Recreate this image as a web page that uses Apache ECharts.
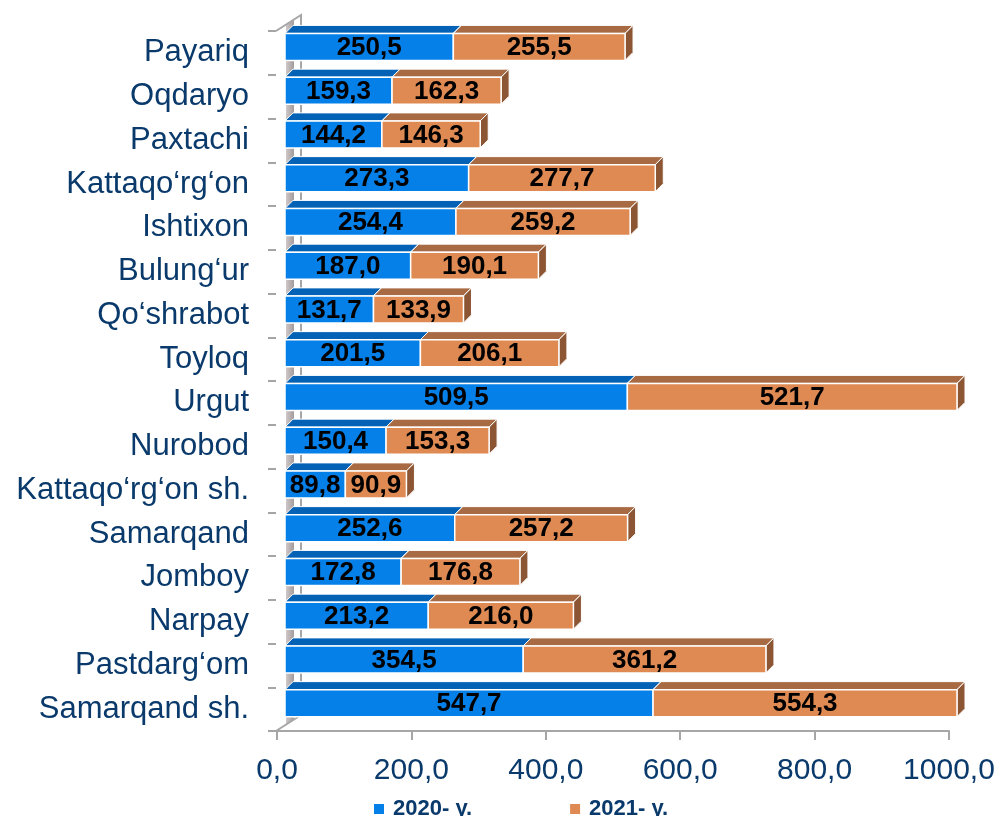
<!DOCTYPE html>
<html>
<head>
<meta charset="utf-8">
<script src="https://cdn.jsdelivr.net/npm/echarts@6/dist/echarts.min.js"></script>
<style>
  html, body { margin: 0; padding: 0; background: #fff; }
  #chart { width: 1001px; height: 816px; }
</style>
</head>
<body>
<div id="chart"></div>
<script>
const categories = ['Payariq', 'Oqdaryo', 'Paxtachi', 'Kattaqo‘rg‘on', 'Ishtixon', 'Bulung‘ur', 'Qo‘shrabot',
  'Toyloq', 'Urgut', 'Nurobod', 'Kattaqo‘rg‘on sh.', 'Samarqand', 'Jomboy', 'Narpay', 'Pastdarg‘om', 'Samarqand sh.']
const values2020 = [250.5, 159.3, 144.2, 273.3, 254.4, 187.0, 131.7, 201.5, 509.5, 150.4, 89.8, 252.6, 172.8, 213.2, 354.5, 547.7]
const values2021 = [255.5, 162.3, 146.3, 277.7, 259.2, 190.1, 133.9, 206.1, 521.7, 153.3, 90.9, 257.2, 176.8, 216.0, 361.2, 554.3]
const xTicks = [0, 200, 400, 600, 800, 1000]
const seriesNames = ['2020- y.', '2021- y.']

const AXIS_MAX = xTicks[xTicks.length - 1]
const navy = '#0A3A6B'
const gray = '#A6A6A6'
const fmt = v => v.toFixed(1).replace('.', ',')

// 3d look
const DEPTH = 8
const FACE_H = 27
const FACE_SHIFT = -6
const X_SHIFT = 8

const palettes = [
  { front: '#0580E8', top: '#0462B6', side: '#034F93' },
  { front: '#DE8A52', top: '#A76A43', side: '#8C5634' }
]

function barItem (palette) {
  return function (params, api) {
    const i = api.value(0)
    const s = api.value(1)
    const e = Math.min(api.value(2), AXIS_MAX)
    if (s >= AXIS_MAX) return
    const p0 = api.coord([s, i])
    const p1 = api.coord([e, i])
    const x0 = p0[0] + X_SHIFT
    const x1 = p1[0] + X_SHIFT
    const cy = p0[1] + FACE_SHIFT
    const top = cy - FACE_H / 2
    const bot = cy + FACE_H / 2
    return {
      type: 'group',
      children: [
        {
          type: 'polygon',
          shape: { points: [[x0, top], [x0 + DEPTH, top - DEPTH], [x1 + DEPTH, top - DEPTH], [x1, top]] },
          style: { fill: palette.top, stroke: '#fff', lineWidth: 1 }
        },
        {
          type: 'polygon',
          shape: { points: [[x1, top], [x1 + DEPTH, top - DEPTH], [x1 + DEPTH, bot - DEPTH], [x1, bot]] },
          style: { fill: palette.side, stroke: '#fff', lineWidth: 1 }
        },
        {
          type: 'rect',
          shape: { x: x0, y: top, width: x1 - x0, height: FACE_H },
          style: { fill: palette.front, stroke: '#fff', lineWidth: 1.5 }
        },
        {
          type: 'text',
          style: {
            text: fmt(api.value(3)),
            x: (x0 + x1) / 2,
            y: cy + 1,
            align: 'center',
            verticalAlign: 'middle',
            fontSize: 26,
            fontWeight: 'bold',
            fontFamily: 'Liberation Sans, Arial, sans-serif',
            fill: '#000'
          }
        }
      ]
    }
  }
}

// side wall of the 3d frame
function wallItem (params, api) {
  const band = api.size([0, 1])[1]
  const first = api.coord([0, 0])
  const last = api.coord([0, categories.length - 1])
  const x = first[0] - 1
  const yTop = first[1] - band / 2
  const yBot = last[1] + band / 2
  const dx = 25
  const dy = 16
  return {
    type: 'group',
    children: [
      {
        type: 'polygon',
        shape: { points: [[x, yBot], [x, yTop], [x + dx, yTop - dy], [x + dx, yBot - dy]] },
        style: {
          fill: new echarts.graphic.LinearGradient(0, 0, 1, 0, [
            { offset: 0, color: '#fff' },
            { offset: 0.38, color: '#fff' },
            { offset: 0.4, color: '#CFC8C8' },
            { offset: 0.72, color: '#A39B9B' },
            { offset: 0.74, color: '#fff' },
            { offset: 1, color: '#fff' }
          ])
        }
      },
      {
        type: 'polyline',
        shape: { points: [[x, yTop], [x + dx, yTop - dy], [x + dx, yBot - dy], [x, yBot]] },
        style: { stroke: gray, lineWidth: 2, fill: null }
      }
    ]
  }
}

const data2020 = values2020.map((v, i) => [i, 0, v, v])
const data2021 = values2021.map((v, i) => [i, values2020[i], values2020[i] + v, v])

const chart = echarts.init(document.getElementById('chart'))
chart.setOption({
  animation: false,
  textStyle: { fontFamily: 'Liberation Sans, Arial, sans-serif' },
  grid: { left: 277, right: 52, top: 31, bottom: 85 },
  legend: {
    data: seriesNames,
    left: 369,
    top: 793,
    icon: 'rect',
    itemWidth: 10,
    itemHeight: 10,
    itemGap: 98,
    textStyle: { color: navy, fontSize: 22, fontWeight: 'bold', padding: [0, 0, 0, 4] }
  },
  xAxis: {
    type: 'value',
    min: 0,
    max: AXIS_MAX,
    interval: 200,
    axisLine: { show: true, lineStyle: { color: gray, width: 2 } },
    axisTick: { show: true, length: 9, lineStyle: { color: gray, width: 2 } },
    splitLine: { show: false },
    axisLabel: { color: navy, fontSize: 30, margin: 25, formatter: v => fmt(v) }
  },
  yAxis: {
    type: 'category',
    inverse: true,
    data: categories,
    axisLine: { show: true, lineStyle: { color: gray, width: 2 } },
    axisTick: { show: true, length: 9, lineStyle: { color: gray, width: 2 } },
    axisLabel: { color: navy, fontSize: 31, margin: 28 }
  },
  series: [
    {
      name: 'wall',
      type: 'custom',
      z: 1,
      silent: true,
      clip: false,
      renderItem: wallItem,
      encode: { x: 1, y: 0 },
      data: [[0, 0]]
    },
    {
      name: seriesNames[0],
      type: 'custom',
      z: 2,
      clip: false,
      itemStyle: { color: palettes[0].front },
      renderItem: barItem(palettes[0]),
      encode: { x: [1, 2], y: 0 },
      data: data2020
    },
    {
      name: seriesNames[1],
      type: 'custom',
      z: 3,
      clip: false,
      itemStyle: { color: palettes[1].front },
      renderItem: barItem(palettes[1]),
      encode: { x: [1, 2], y: 0 },
      data: data2021
    }
  ]
})
</script>
</body>
</html>
